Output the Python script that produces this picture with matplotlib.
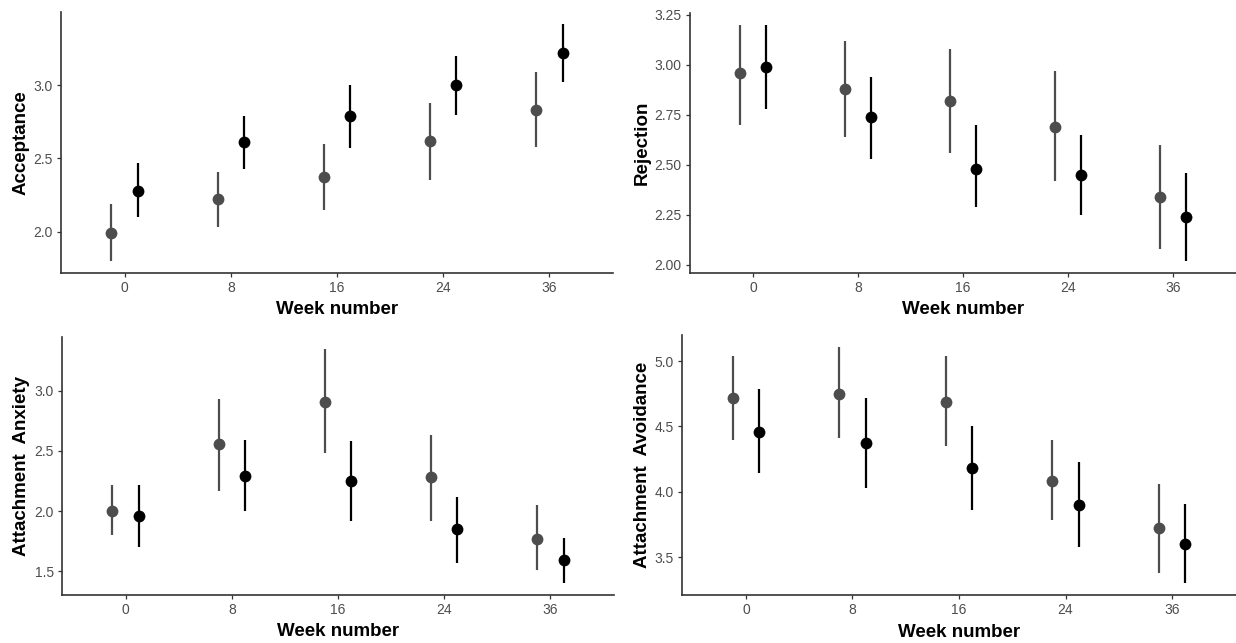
import matplotlib
matplotlib.use("Agg")
import matplotlib.pyplot as plt
import numpy as np

plt.rcParams['font.family'] = ['Liberation Sans', 'DejaVu Sans']

weeks = ['0', '8', '16', '24', '36']

acc_g_mean = [1.99, 2.22, 2.37, 2.62, 2.83]
acc_g_lo = [1.80, 2.03, 2.15, 2.35, 2.58]
acc_g_hi = [2.19, 2.41, 2.60, 2.88, 3.09]
acc_b_mean = [2.28, 2.61, 2.79, 3.00, 3.22]
acc_b_lo = [2.10, 2.43, 2.57, 2.80, 3.02]
acc_b_hi = [2.47, 2.79, 3.00, 3.20, 3.42]

rej_g_mean = [2.96, 2.88, 2.82, 2.69, 2.34]
rej_g_lo = [2.70, 2.64, 2.56, 2.42, 2.08]
rej_g_hi = [3.20, 3.12, 3.08, 2.97, 2.60]
rej_b_mean = [2.99, 2.74, 2.48, 2.45, 2.24]
rej_b_lo = [2.78, 2.53, 2.29, 2.25, 2.02]
rej_b_hi = [3.20, 2.94, 2.70, 2.65, 2.46]

anx_g_mean = [2.00, 2.56, 2.91, 2.28, 1.77]
anx_g_lo = [1.80, 2.17, 2.48, 1.92, 1.51]
anx_g_hi = [2.22, 2.93, 3.35, 2.63, 2.05]
anx_b_mean = [1.96, 2.29, 2.25, 1.85, 1.59]
anx_b_lo = [1.70, 2.00, 1.92, 1.57, 1.40]
anx_b_hi = [2.22, 2.59, 2.58, 2.12, 1.78]

avo_g_mean = [4.72, 4.75, 4.69, 4.08, 3.72]
avo_g_lo = [4.40, 4.41, 4.35, 3.78, 3.38]
avo_g_hi = [5.04, 5.11, 5.04, 4.40, 4.06]
avo_b_mean = [4.46, 4.37, 4.18, 3.90, 3.60]
avo_b_lo = [4.14, 4.03, 3.86, 3.58, 3.30]
avo_b_hi = [4.79, 4.72, 4.50, 4.23, 3.91]

panels = [
    dict(label='Acceptance', pos=[0.0494, 0.5759, 0.4466, 0.4054],
         g=(acc_g_mean, acc_g_lo, acc_g_hi), b=(acc_b_mean, acc_b_lo, acc_b_hi),
         yticks=[2.0, 2.5, 3.0], fmt='%.1f', ylx=-0.072),
    dict(label='Rejection', pos=[0.5583, 0.5759, 0.4417, 0.4040],
         g=(rej_g_mean, rej_g_lo, rej_g_hi), b=(rej_b_mean, rej_b_lo, rej_b_hi),
         yticks=[2.00, 2.25, 2.50, 2.75, 3.00, 3.25], fmt='%.2f', ylx=-0.088),
    dict(label='Attachment  Anxiety', pos=[0.0502, 0.0747, 0.4466, 0.4012],
         g=(anx_g_mean, anx_g_lo, anx_g_hi), b=(anx_b_mean, anx_b_lo, anx_b_hi),
         yticks=[1.5, 2.0, 2.5, 3.0], fmt='%.1f', ylx=-0.074),
    dict(label='Attachment  Avoidance', pos=[0.5518, 0.0747, 0.4482, 0.4043],
         g=(avo_g_mean, avo_g_lo, avo_g_hi), b=(avo_b_mean, avo_b_lo, avo_b_hi),
         yticks=[3.5, 4.0, 4.5, 5.0], fmt='%.1f', ylx=-0.072),
]

fig = plt.figure(figsize=(12.36, 6.43), dpi=100)
x = np.arange(len(weeks))
dodge = 0.125
gray = '#4d4d4d'

for p in panels:
    ax = fig.add_axes(p['pos'])
    for (mean, lo, hi), off, col in ((p['g'], -dodge, gray), (p['b'], dodge, 'black')):
        mean = np.array(mean); lo = np.array(lo); hi = np.array(hi)
        ax.vlines(x + off, lo, hi, colors=col, linewidth=1.6, zorder=2)
        ax.plot(x + off, mean, 'o', color=col, markersize=8.5, zorder=3,
                markeredgewidth=0)
    allv = np.concatenate([p['g'][1], p['g'][2], p['b'][1], p['b'][2]])
    lo_v, hi_v = allv.min(), allv.max()
    pad = 0.05 * (hi_v - lo_v)
    ax.set_ylim(lo_v - pad, hi_v + pad)
    ax.set_xlim(-0.6, len(weeks) - 1 + 0.6)
    ax.set_xticks(x)
    ax.set_xticklabels(weeks)
    ax.set_yticks(p['yticks'])
    ax.set_yticklabels([p['fmt'] % v for v in p['yticks']])
    for s in ('top', 'right'):
        ax.spines[s].set_visible(False)
    for s in ('left', 'bottom'):
        ax.spines[s].set_color('#333333')
        ax.spines[s].set_linewidth(1.2)
    ax.tick_params(axis='both', colors='#333333', labelcolor='#4d4d4d',
                   labelsize=10, length=3, width=0.9, pad=3)
    ax.set_xlabel('Week number', fontsize=13.5, fontweight='bold')
    ax.xaxis.set_label_coords(0.5, -0.143)
    ax.xaxis.label.set_verticalalignment('center')
    ax.set_ylabel(p['label'], fontsize=13.5, fontweight='bold')
    ax.yaxis.set_label_coords(p['ylx'], 0.5)
    ax.yaxis.label.set_verticalalignment('center')

fig.savefig('out.png', dpi=100)
